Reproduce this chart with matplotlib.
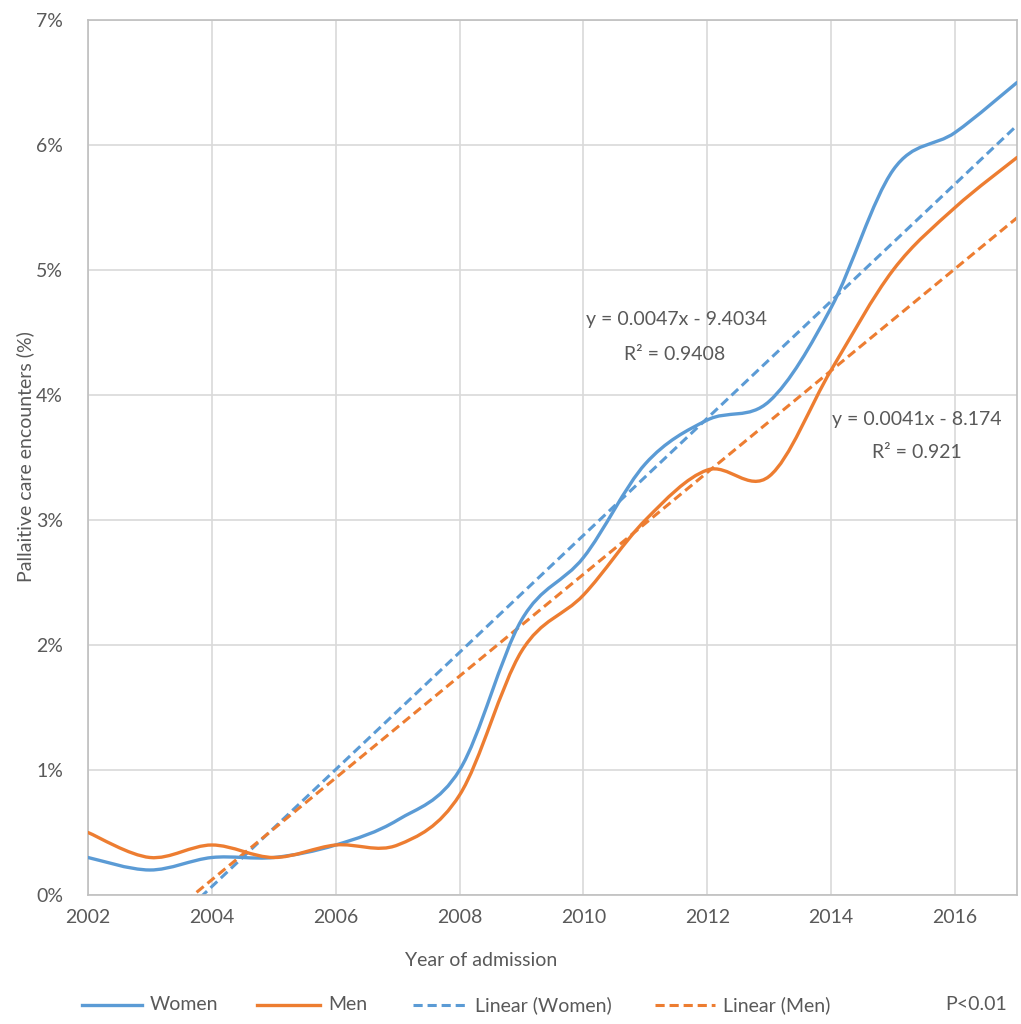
import numpy as np
import matplotlib
matplotlib.use('Agg')
import matplotlib.pyplot as plt
from matplotlib.path import Path
from matplotlib.patches import PathPatch
from matplotlib.lines import Line2D
from matplotlib.ticker import FuncFormatter

plt.rcParams['font.family'] = ['Lato', 'DejaVu Sans']

years = np.arange(2002, 2018)
women = [0.3, 0.2, 0.3, 0.3, 0.4, 0.6, 1.0, 2.2, 2.7, 3.45, 3.8, 3.95, 4.7, 5.8, 6.1, 6.5]
men = [0.5, 0.3, 0.4, 0.3, 0.4, 0.4, 0.8, 1.95, 2.4, 3.0, 3.4, 3.35, 4.2, 5.0, 5.5, 5.9]

BLUE = '#5B9BD5'
ORANGE = '#ED7D31'
TEXT = '#595959'
GRID = '#D9D9D9'
W, H = 1021, 1024
FS = 14
DASH = (0, (3, 1.6))


def smooth_path(x, y):
    # Excel-style smoothed line: cubic Bezier segments through each point
    x = np.asarray(x, float)
    y = np.asarray(y, float)
    n = len(x)
    verts = [(x[0], y[0])]
    codes = [Path.MOVETO]
    for i in range(n - 1):
        x0, y0 = (x[i - 1], y[i - 1]) if i > 0 else (x[i], y[i])
        x3, y3 = (x[i + 2], y[i + 2]) if i + 2 < n else (x[i + 1], y[i + 1])
        c1 = (x[i] + (x[i + 1] - x0) / 6, y[i] + (y[i + 1] - y0) / 6)
        c2 = (x[i + 1] - (x3 - x[i]) / 6, y[i + 1] - (y3 - y[i]) / 6)
        verts += [c1, c2, (x[i + 1], y[i + 1])]
        codes += [Path.CURVE4] * 3
    return Path(verts, codes)


def fx(px):
    return px / W


def fy(py):
    return 1 - py / H


fig = plt.figure(figsize=(W / 100, H / 100), dpi=100)
ax = fig.add_axes([fx(88), fy(895), fx(1017) - fx(88), fy(20) - fy(895)])

ax.set_xlim(2002, 2017)
ax.set_ylim(0, 7)
ax.set_xticks(np.arange(2002, 2018, 2))
ax.set_yticks(np.arange(0, 8, 1))
ax.yaxis.set_major_formatter(FuncFormatter(lambda v, p: f'{int(v)}%'))
ax.grid(True, color=GRID, lw=1.2)
ax.tick_params(length=0, colors=TEXT, labelsize=FS)
ax.tick_params(axis='x', pad=10)
ax.tick_params(axis='y', pad=18)
for s in ax.spines.values():
    s.set_color('#BFBFBF')
    s.set_linewidth(1.2)
ax.set_axisbelow(True)

# linear trendlines
xt = np.linspace(2002, 2017, 200)
for data, col in [(women, BLUE), (men, ORANGE)]:
    k, b = np.polyfit(years, data, 1)
    ax.plot(xt, k * xt + b, color=col, lw=2.2, ls=DASH, zorder=2)

for data, col in [(women, BLUE), (men, ORANGE)]:
    ax.add_patch(PathPatch(smooth_path(years, data), fill=False, edgecolor=col,
                           lw=2.4, zorder=3, capstyle='round'))

tkw = dict(ha='center', va='center', fontsize=FS, color=TEXT, transform=fig.transFigure)
ax.text(fx(676), fy(320), 'y = 0.0047x - 9.4034', **tkw)
ax.text(fx(675), fy(355), 'R² = 0.9408', **tkw)
ax.text(fx(917), fy(420), 'y = 0.0041x - 8.174', **tkw)
ax.text(fx(917), fy(453), 'R² = 0.921', **tkw)

fig.text(fx(25), fy(457), 'Pallaitive care encounters (%)', rotation=90,
         ha='center', va='center', fontsize=FS, color=TEXT)
fig.text(fx(481), fy(960), 'Year of admission', **tkw)

# legend row
ly = fy(1005)
entries = [
    (82, 142, BLUE, '-', 'Women'),
    (257, 320, ORANGE, '-', 'Men'),
    (413, 467, BLUE, DASH, 'Linear (Women)'),
    (655, 715, ORANGE, DASH, 'Linear (Men)'),
]
for x0, x1, col, ls, lab in entries:
    fig.add_artist(Line2D([fx(x0), fx(x1)], [ly, ly], color=col, lw=2.4 if ls == '-' else 2.2,
                          ls=ls, transform=fig.transFigure))
    fig.text(fx(x1 + 8), ly, lab, ha='left', va='center', fontsize=FS, color=TEXT)
fig.text(fx(976), ly, 'P<0.01', ha='center', va='center', fontsize=FS, color=TEXT)

fig.savefig('out.png', dpi=100, facecolor='white')
